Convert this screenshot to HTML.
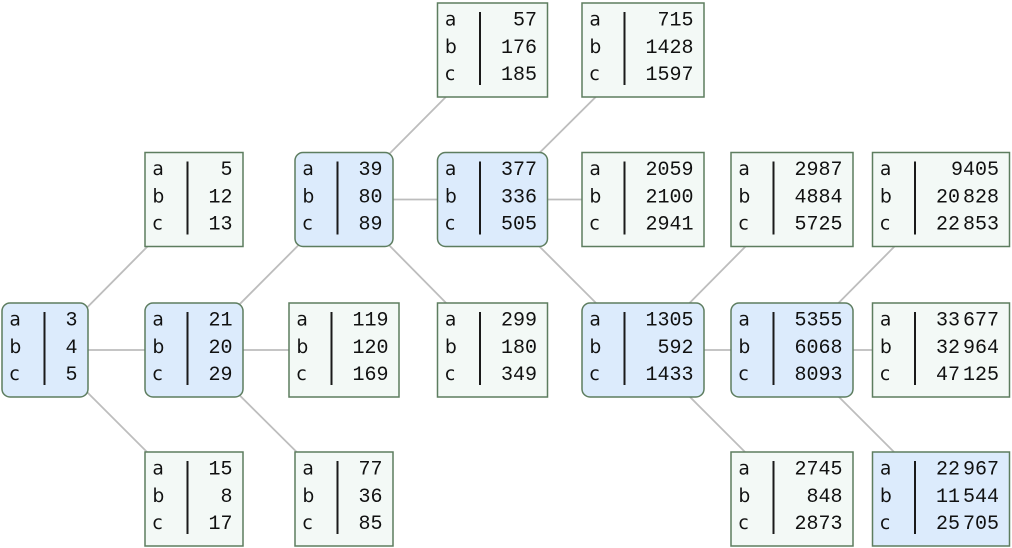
<!DOCTYPE html>
<html><head><meta charset="utf-8"><style>
html,body{margin:0;padding:0;background:#fff;}
svg{display:block;}
.l{font-family:"DejaVu Sans","Liberation Sans",sans-serif;font-size:18.5px;fill:#111;}
.n{font-family:"Liberation Mono","DejaVu Sans Mono",monospace;font-size:20px;fill:#111;text-anchor:end;}
.lf{fill:#f3f9f6;stroke:#5d7d5f;stroke-width:1.5;}
.bl{fill:#dcebfc;stroke:#5d7d5f;stroke-width:1.5;}
.vl{stroke:#1a1a1a;stroke-width:2;}
.e{stroke:#bdbdbd;stroke-width:1.8;}
</style></head><body>
<svg width="1012" height="548" viewBox="0 0 1012 548" xmlns="http://www.w3.org/2000/svg">
<!-- edges -->
<line class="e" x1="45" y1="350" x2="194" y2="199.5"/>
<line class="e" x1="45" y1="350" x2="194" y2="350"/>
<line class="e" x1="45" y1="350" x2="194" y2="499"/>
<line class="e" x1="194" y1="350" x2="344" y2="199.5"/>
<line class="e" x1="194" y1="350" x2="344" y2="350"/>
<line class="e" x1="194" y1="350" x2="344" y2="499"/>
<line class="e" x1="344" y1="199.5" x2="492.5" y2="50"/>
<line class="e" x1="344" y1="199.5" x2="492.5" y2="199.5"/>
<line class="e" x1="344" y1="199.5" x2="492.5" y2="350"/>
<line class="e" x1="492.5" y1="199.5" x2="643" y2="50"/>
<line class="e" x1="492.5" y1="199.5" x2="643" y2="199.5"/>
<line class="e" x1="492.5" y1="199.5" x2="643" y2="350"/>
<line class="e" x1="643" y1="350" x2="792" y2="199.5"/>
<line class="e" x1="643" y1="350" x2="792" y2="350"/>
<line class="e" x1="643" y1="350" x2="792" y2="499"/>
<line class="e" x1="792" y1="350" x2="941" y2="199.5"/>
<line class="e" x1="792" y1="350" x2="941" y2="350"/>
<line class="e" x1="792" y1="350" x2="941" y2="499"/>

<!-- node 1 -->
<g transform="translate(2,303)">
<rect class="bl" x="0" y="0" width="86" height="94" rx="8"/>
<text class="l" x="7.5" y="22.5">a</text><text class="l" x="7.5" y="49.75">b</text><text class="l" x="7.5" y="77">c</text>
<line class="vl" x1="42.5" y1="9" x2="42.5" y2="82"/>
<text class="n" x="75.5" y="22.5">3</text><text class="n" x="75.5" y="49.75">4</text><text class="n" x="75.5" y="77">5</text>
</g>

<!-- col 2 -->
<g transform="translate(145,152.5)">
<rect class="lf" x="0" y="0" width="98" height="94"/>
<text class="l" x="7.5" y="22.5">a</text><text class="l" x="7.5" y="49.75">b</text><text class="l" x="7.5" y="77">c</text>
<line class="vl" x1="42.5" y1="9" x2="42.5" y2="82"/>
<text class="n" x="87.5" y="22.5">5</text><text class="n" x="87.5" y="49.75">12</text><text class="n" x="87.5" y="77">13</text>
</g>
<g transform="translate(145,303)">
<rect class="bl" x="0" y="0" width="98" height="94" rx="8"/>
<text class="l" x="7.5" y="22.5">a</text><text class="l" x="7.5" y="49.75">b</text><text class="l" x="7.5" y="77">c</text>
<line class="vl" x1="42.5" y1="9" x2="42.5" y2="82"/>
<text class="n" x="87.5" y="22.5">21</text><text class="n" x="87.5" y="49.75">20</text><text class="n" x="87.5" y="77">29</text>
</g>
<g transform="translate(145,452)">
<rect class="lf" x="0" y="0" width="98" height="94"/>
<text class="l" x="7.5" y="22.5">a</text><text class="l" x="7.5" y="49.75">b</text><text class="l" x="7.5" y="77">c</text>
<line class="vl" x1="42.5" y1="9" x2="42.5" y2="82"/>
<text class="n" x="87.5" y="22.5">15</text><text class="n" x="87.5" y="49.75">8</text><text class="n" x="87.5" y="77">17</text>
</g>

<!-- col 3 -->
<g transform="translate(295,152.5)">
<rect class="bl" x="0" y="0" width="98" height="94" rx="8"/>
<text class="l" x="7.5" y="22.5">a</text><text class="l" x="7.5" y="49.75">b</text><text class="l" x="7.5" y="77">c</text>
<line class="vl" x1="42.5" y1="9" x2="42.5" y2="82"/>
<text class="n" x="87.5" y="22.5">39</text><text class="n" x="87.5" y="49.75">80</text><text class="n" x="87.5" y="77">89</text>
</g>
<g transform="translate(289,303)">
<rect class="lf" x="0" y="0" width="110" height="94"/>
<text class="l" x="7.5" y="22.5">a</text><text class="l" x="7.5" y="49.75">b</text><text class="l" x="7.5" y="77">c</text>
<line class="vl" x1="42.5" y1="9" x2="42.5" y2="82"/>
<text class="n" x="99.5" y="22.5">119</text><text class="n" x="99.5" y="49.75">120</text><text class="n" x="99.5" y="77">169</text>
</g>
<g transform="translate(295,452)">
<rect class="lf" x="0" y="0" width="98" height="94"/>
<text class="l" x="7.5" y="22.5">a</text><text class="l" x="7.5" y="49.75">b</text><text class="l" x="7.5" y="77">c</text>
<line class="vl" x1="42.5" y1="9" x2="42.5" y2="82"/>
<text class="n" x="87.5" y="22.5">77</text><text class="n" x="87.5" y="49.75">36</text><text class="n" x="87.5" y="77">85</text>
</g>

<!-- col 4 -->
<g transform="translate(437.5,3)">
<rect class="lf" x="0" y="0" width="110" height="94"/>
<text class="l" x="7.5" y="22.5">a</text><text class="l" x="7.5" y="49.75">b</text><text class="l" x="7.5" y="77">c</text>
<line class="vl" x1="42.5" y1="9" x2="42.5" y2="82"/>
<text class="n" x="99.5" y="22.5">57</text><text class="n" x="99.5" y="49.75">176</text><text class="n" x="99.5" y="77">185</text>
</g>
<g transform="translate(437.5,152.5)">
<rect class="bl" x="0" y="0" width="110" height="94" rx="8"/>
<text class="l" x="7.5" y="22.5">a</text><text class="l" x="7.5" y="49.75">b</text><text class="l" x="7.5" y="77">c</text>
<line class="vl" x1="42.5" y1="9" x2="42.5" y2="82"/>
<text class="n" x="99.5" y="22.5">377</text><text class="n" x="99.5" y="49.75">336</text><text class="n" x="99.5" y="77">505</text>
</g>
<g transform="translate(437.5,303)">
<rect class="lf" x="0" y="0" width="110" height="94"/>
<text class="l" x="7.5" y="22.5">a</text><text class="l" x="7.5" y="49.75">b</text><text class="l" x="7.5" y="77">c</text>
<line class="vl" x1="42.5" y1="9" x2="42.5" y2="82"/>
<text class="n" x="99.5" y="22.5">299</text><text class="n" x="99.5" y="49.75">180</text><text class="n" x="99.5" y="77">349</text>
</g>

<!-- col 5 -->
<g transform="translate(582,3)">
<rect class="lf" x="0" y="0" width="122" height="94"/>
<text class="l" x="7.5" y="22.5">a</text><text class="l" x="7.5" y="49.75">b</text><text class="l" x="7.5" y="77">c</text>
<line class="vl" x1="42.5" y1="9" x2="42.5" y2="82"/>
<text class="n" x="111.5" y="22.5">715</text><text class="n" x="111.5" y="49.75">1428</text><text class="n" x="111.5" y="77">1597</text>
</g>
<g transform="translate(582,152.5)">
<rect class="lf" x="0" y="0" width="122" height="94"/>
<text class="l" x="7.5" y="22.5">a</text><text class="l" x="7.5" y="49.75">b</text><text class="l" x="7.5" y="77">c</text>
<line class="vl" x1="42.5" y1="9" x2="42.5" y2="82"/>
<text class="n" x="111.5" y="22.5">2059</text><text class="n" x="111.5" y="49.75">2100</text><text class="n" x="111.5" y="77">2941</text>
</g>
<g transform="translate(582,303)">
<rect class="bl" x="0" y="0" width="122" height="94" rx="8"/>
<text class="l" x="7.5" y="22.5">a</text><text class="l" x="7.5" y="49.75">b</text><text class="l" x="7.5" y="77">c</text>
<line class="vl" x1="42.5" y1="9" x2="42.5" y2="82"/>
<text class="n" x="111.5" y="22.5">1305</text><text class="n" x="111.5" y="49.75">592</text><text class="n" x="111.5" y="77">1433</text>
</g>

<!-- col 6 -->
<g transform="translate(731,152.5)">
<rect class="lf" x="0" y="0" width="122" height="94"/>
<text class="l" x="7.5" y="22.5">a</text><text class="l" x="7.5" y="49.75">b</text><text class="l" x="7.5" y="77">c</text>
<line class="vl" x1="42.5" y1="9" x2="42.5" y2="82"/>
<text class="n" x="111.5" y="22.5">2987</text><text class="n" x="111.5" y="49.75">4884</text><text class="n" x="111.5" y="77">5725</text>
</g>
<g transform="translate(731,303)">
<rect class="bl" x="0" y="0" width="122" height="94" rx="8"/>
<text class="l" x="7.5" y="22.5">a</text><text class="l" x="7.5" y="49.75">b</text><text class="l" x="7.5" y="77">c</text>
<line class="vl" x1="42.5" y1="9" x2="42.5" y2="82"/>
<text class="n" x="111.5" y="22.5">5355</text><text class="n" x="111.5" y="49.75">6068</text><text class="n" x="111.5" y="77">8093</text>
</g>
<g transform="translate(731,452)">
<rect class="lf" x="0" y="0" width="122" height="94"/>
<text class="l" x="7.5" y="22.5">a</text><text class="l" x="7.5" y="49.75">b</text><text class="l" x="7.5" y="77">c</text>
<line class="vl" x1="42.5" y1="9" x2="42.5" y2="82"/>
<text class="n" x="111.5" y="22.5">2745</text><text class="n" x="111.5" y="49.75">848</text><text class="n" x="111.5" y="77">2873</text>
</g>

<!-- col 7 -->
<g transform="translate(872.5,152.5)">
<rect class="lf" x="0" y="0" width="137" height="94"/>
<text class="l" x="7.5" y="22.5">a</text><text class="l" x="7.5" y="49.75">b</text><text class="l" x="7.5" y="77">c</text>
<line class="vl" x1="42.5" y1="9" x2="42.5" y2="82"/>
<text class="n" x="126.5" y="22.5">9405</text>
<text class="n" x="126.5" y="49.75">20<tspan dx="3">828</tspan></text>
<text class="n" x="126.5" y="77">22<tspan dx="3">853</tspan></text>
</g>
<g transform="translate(872.5,303)">
<rect class="lf" x="0" y="0" width="137" height="94"/>
<text class="l" x="7.5" y="22.5">a</text><text class="l" x="7.5" y="49.75">b</text><text class="l" x="7.5" y="77">c</text>
<line class="vl" x1="42.5" y1="9" x2="42.5" y2="82"/>
<text class="n" x="126.5" y="22.5">33<tspan dx="3">677</tspan></text>
<text class="n" x="126.5" y="49.75">32<tspan dx="3">964</tspan></text>
<text class="n" x="126.5" y="77">47<tspan dx="3">125</tspan></text>
</g>
<g transform="translate(872.5,452)">
<rect class="bl" x="0" y="0" width="137" height="94"/>
<text class="l" x="7.5" y="22.5">a</text><text class="l" x="7.5" y="49.75">b</text><text class="l" x="7.5" y="77">c</text>
<line class="vl" x1="42.5" y1="9" x2="42.5" y2="82"/>
<text class="n" x="126.5" y="22.5">22<tspan dx="3">967</tspan></text>
<text class="n" x="126.5" y="49.75">11<tspan dx="3">544</tspan></text>
<text class="n" x="126.5" y="77">25<tspan dx="3">705</tspan></text>
</g>
</svg>
</body></html>
